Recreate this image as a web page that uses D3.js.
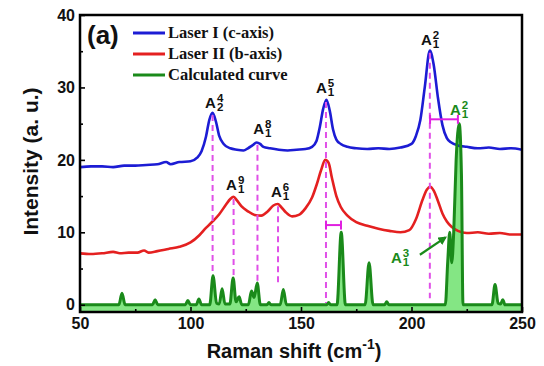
<!DOCTYPE html>
<meta charset="utf-8">
<style>
body { margin: 0; background: #fff; }
text { font-family: "Liberation Sans", Arial, sans-serif; font-weight: bold; fill: #111; }
.legendLabel { font-family: "Liberation Serif", "Times New Roman", serif; font-size: 16.5px; }
.tick text { font-size: 16px; }
</style>
<body>
<script src="https://d3js.org/d3.v7.min.js"></script>
<script>

// Laser I (c-axis), [shift, intensity]
const laserI = [[50,19.0],[55,19.1],[60,19.1],[65,19.0],[70,19.2],[75,19.2],[80,19.3],[85,19.4],
  [89,19.7],[91,19.4],[95,19.7],[100,19.8],[103,20.3],[105,21.2],[107,23.2],[108.5,25.5],[110,26.5],
  [111.5,25.3],[113,23.3],[115,22.2],[118,21.6],[121,21.4],[124,21.3],[126,21.6],[128,22.0],[130,22.4],
  [131.5,22.2],[133,21.8],[136,21.6],[140,21.4],[144,21.3],[148,21.4],[152,21.5],[155,21.8],[157,22.6],
  [158.5,24.5],[160,27.0],[161.5,28.3],[163,26.8],[164.5,24.2],[166,22.8],[168,22.2],[171,21.8],
  [175,21.6],[180,21.5],[185,21.6],[190,21.5],[195,21.7],[200,22.2],[202,23.3],[204,25.5],[206,30.0],
  [208.3,35.1],[210,33.2],[212,28.5],[214,24.8],[216,23.0],[218,22.4],[221,22.0],[225,21.8],
  [230,21.6],[235,21.7],[240,21.5],[245,21.6],[250,21.4]];

// Laser II (b-axis)
const laserII = [[50,7.1],[55,7.0],[60,7.1],[65,7.3],[68,7.1],[72,7.2],[76,7.2],[79,7.5],[81,7.2],
  [85,7.4],[90,7.7],[95,8.0],[100,8.6],[104,9.6],[107,10.6],[110,11.5],[113,12.5],[116,13.8],
  [118,14.6],[119.5,14.9],[121,14.4],[123,13.6],[126,12.9],[129,12.4],[132,12.3],[135,12.9],
  [137.5,13.7],[139.5,13.9],[141,13.5],[143,12.8],[146,12.2],[149,12.4],[152,13.3],[155,14.8],
  [157,16.5],[159,18.5],[161,20.0],[162.5,19.6],[164,17.5],[166,15.0],[168,13.5],[171,12.3],
  [175,11.4],[180,10.9],[185,10.5],[190,10.2],[195,10.0],[199,10.3],[202,11.8],[205,14.5],
  [207,15.9],[208.5,16.3],[210,15.8],[212,14.3],[214,12.6],[216,11.5],[218,10.8],[221,10.2],
  [225,9.9],[230,10.0],[235,9.8],[240,9.9],[245,9.7],[250,9.7]];

// Calculated curve
const calc = [[50,0],
  [67.6,0],[69,1.6],[70.4,0],
  [82.8,0],[84,0.7],[85.2,0],
  [97.7,0],[98.8,0.6],[99.9,0],
  [102.6,0],[103.8,0.8],[105,0],
  [108.7,0],[110.2,4.0],[111.8,0.2],[113,0.1],[114.3,2.2],[115.6,0.1],[117.8,0.1],[119.3,3.7],
  [120.6,0.4],[122,1.1],[123.2,0],
  [126.2,0],[127.6,1.9],[128.8,1.0],[130.2,3.0],[131.6,0],
  [134.6,0],[135.5,0.3],[136.4,0],
  [140.6,0],[142,2.1],[143.4,0],
  [161.6,0],[162.5,0.3],[163.4,0],
  [166.3,0],[168.2,10.0],[170.1,0],
  [179.0,0],[180.8,5.8],[182.6,0],
  [187.8,0],[188.8,0.4],[189.8,0],
  [215.3,0],[216.4,6],[217.3,10],[218.2,5.8],[219.1,10],[220.2,20],[221.6,25],[222.6,18],[223.3,0],
  [236.4,0],[237.8,2.8],[239.2,0.2],[240.3,0.1],[241.3,0.7],[242.3,0],
  [250,0]];

// dashed guides: [shift, top, bottom]
const guides = [[110,26.2,4.1],[119.5,14.6,3.8],[130.3,22.1,3.0],[139.6,13.6,3.0],[161.3,28.0,0.25],[208.3,34.8,0.9]];
// magenta shift bars: [from, to, level]
const shifts = [[161.3,168.1,11.0],[208.4,221,25.6]];
// mode labels: [shift, baseline, sub, sup, colour]
const modes = [[110.2,27.2,"2","4","#111"],[132,23.6,"1","8","#111"],[160.4,29.3,"1","5","#111"],
  [207.9,35.9,"1","2","#111"],[119.7,15.8,"1","9","#111"],[140,14.9,"1","6","#111"],
  [221,26.2,"1","2","#1a8a1a"],[194.3,5.8,"1","3","#1a8a1a"]];

const xTicks = [50,100,150,200,250], xMinor = [75,125,175,225];
const yTicks = [0,10,20,30,40], yMinor = [5,15,25,35];
const names = ["Laser I (c-axis)", "Laser II (b-axis)", "Calculated curve"];
const colors = ["#1c1cd4", "#e42020", "#1a8a1a"];

let width = 544, height = 366,
    mLeft = 80, mRight = 522, mTop = 15, mBottom = 312;

let svg = d3.select("body").append("svg")
    .attr("width", width)
    .attr("height", height);

let x = d3.scaleLinear().domain([50, 250]).range([mLeft, mRight]),
    y = d3.scaleLinear().domain([-1, 40]).range([mBottom, mTop]);

svg.append("clipPath").attr("id", "clip")
  .append("rect").attr("x", mLeft).attr("y", mTop).attr("width", mRight - mLeft).attr("height", mBottom - mTop);

let plot = svg.append("g").attr("clip-path", "url(#clip)");

plot.append("path")
    .datum(calc)
    .attr("fill", "#84e684")
    .attr("d", d3.area().x(d => x(d[0])).y0(y(-1)).y1(d => y(d[1])).curve(d3.curveMonotoneX));

let line = d3.line().x(d => x(d[0])).y(d => y(d[1])).curve(d3.curveMonotoneX);

[laserI, laserII, calc].forEach((s, i) => {
  plot.append("path")
      .datum(s)
      .attr("fill", "none")
      .attr("stroke", colors[i])
      .attr("stroke-width", i == 2 ? 3 : 2.6)
      .attr("stroke-linejoin", "round")
      .attr("d", line);
});

plot.selectAll(".guide")
  .data(guides)
  .join("line")
    .attr("x1", d => x(d[0])).attr("x2", d => x(d[0]))
    .attr("y1", d => y(d[1])).attr("y2", d => y(d[2]))
    .attr("stroke", "#e050e8")
    .attr("stroke-width", 2)
    .attr("stroke-dasharray", "6,4");

let bar = plot.selectAll(".bar").data(shifts).join("g").attr("stroke", "#e020e0").attr("stroke-width", 2);
bar.append("line")
    .attr("x1", d => x(d[0])).attr("x2", d => x(d[1]))
    .attr("y1", d => y(d[2])).attr("y2", d => y(d[2]));
bar.append("line")
    .attr("x1", d => x(d[0])).attr("x2", d => x(d[0]))
    .attr("y1", d => y(d[2]) - 4.5).attr("y2", d => y(d[2]) + 4.5);
bar.append("line")
    .attr("x1", d => x(d[1])).attr("x2", d => x(d[1]))
    .attr("y1", d => y(d[2]) - 4.5).attr("y2", d => y(d[2]) + 4.5);

// arrow to A1^3 shoulder
svg.append("defs").append("marker")
    .attr("id", "head").attr("viewBox", "0 0 10 10").attr("refX", 8).attr("refY", 5)
    .attr("markerWidth", 4).attr("markerHeight", 4).attr("orient", "auto")
  .append("path").attr("d", "M0,0L10,5L0,10z").attr("fill", "#1a8a1a");
svg.append("line")
    .attr("x1", x(203.8)).attr("y1", y(6.9))
    .attr("x2", x(215.4)).attr("y2", y(9.3))
    .attr("stroke", "#1a8a1a").attr("stroke-width", 2.2)
    .attr("marker-end", "url(#head)");

// mode labels: A with stacked superscript / subscript in one text
let lab = svg.selectAll(".mode").data(modes).join("text")
    .attr("x", d => x(d[0]) - 8)
    .attr("y", d => y(d[1]))
    .attr("font-size", 15)
    .style("fill", d => d[4]);
lab.append("tspan").text("A");
lab.append("tspan").attr("dx", 1).attr("dy", -6).attr("font-size", 11.5).text(d => d[3]);
lab.append("tspan").attr("dx", -6.4).attr("dy", 9).attr("font-size", 11.5).text(d => d[2]);

// axes
svg.append("g").attr("transform", `translate(0,${mBottom})`)
    .call(d3.axisBottom(x).tickValues(xTicks).tickSizeInner(-5).tickSizeOuter(0).tickPadding(6));
svg.append("g").attr("transform", `translate(0,${mBottom})`)
    .call(d3.axisBottom(x).tickValues(xMinor).tickSizeInner(-3).tickSizeOuter(0).tickFormat(""));
svg.append("g").attr("transform", `translate(${mLeft},0)`)
    .call(d3.axisLeft(y).tickValues(yTicks).tickSizeInner(-5).tickSizeOuter(0).tickPadding(5));
svg.append("g").attr("transform", `translate(${mLeft},0)`)
    .call(d3.axisLeft(y).tickValues(yMinor).tickSizeInner(-3).tickSizeOuter(0).tickFormat(""));
svg.selectAll(".domain").remove();
svg.selectAll(".tick line").attr("stroke", "#000").attr("stroke-width", 1.6);
svg.selectAll(".tick text").attr("fill", "#111");

svg.append("rect")
    .attr("x", mLeft).attr("y", mTop).attr("width", mRight - mLeft).attr("height", mBottom - mTop)
    .attr("fill", "none").attr("stroke", "#000").attr("stroke-width", 2.5);

// titles
let xt = svg.append("text").attr("x", 294).attr("y", 358).attr("text-anchor", "middle").attr("font-size", 20);
xt.append("tspan").text("Raman shift (cm");
xt.append("tspan").attr("dy", -9).attr("font-size", 14).text("-1");
xt.append("tspan").attr("dy", 9).text(")");

svg.append("text")
    .attr("transform", "translate(38,161.5) rotate(-90)")
    .attr("text-anchor", "middle").attr("font-size", 21)
    .text("Intensity (a. u.)");

svg.append("text").attr("x", 87).attr("y", 44).attr("font-size", 26).text("(a)");

// legend
let lg = svg.selectAll(".leg").data(names).join("g")
    .attr("transform", (d, i) => `translate(133,${33 + i * 21})`);
lg.append("line").attr("x2", 32).attr("stroke", (d, i) => colors[i]).attr("stroke-width", 3);
lg.append("text").attr("class", "legendLabel").attr("x", 35).attr("dy", "0.33em").text(d => d);

</script>
</body>
